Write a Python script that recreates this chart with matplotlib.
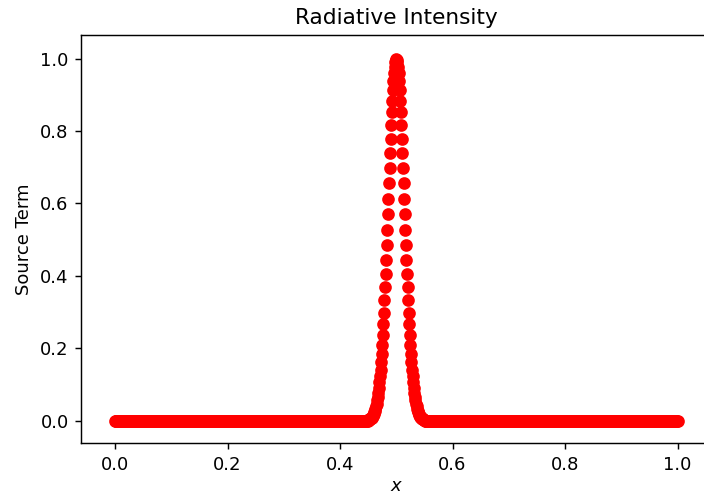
"""Radiative intensity source term sampled on a uniform grid over [0, 1]."""

import numpy as np
import matplotlib

matplotlib.use("Agg")
import matplotlib.pyplot as plt  # noqa: E402

# Sampling grid (uniform, step 0.001).
x_start, x_stop, n_points = 0.0, 1.0, 1001
x_peak = 0.5
grid_step = 0.001

# One side of the peak: value at x_peak + k * grid_step,
# k = 0, 1, 2, ...  Everything further out sits on the 0.0 baseline.
peak_profile = [
    1.0000, 0.9975, 0.9900, 0.9778, 0.9608, 0.9394, 0.9139, 0.8847, 0.8521,
    0.8167, 0.7788, 0.7390, 0.6977, 0.6554, 0.6126, 0.5698, 0.5273, 0.4855,
    0.4449, 0.4056, 0.3679, 0.3321, 0.2982, 0.2665, 0.2369, 0.2096, 0.1845,
    0.1616, 0.1409, 0.1222, 0.1054, 0.0905, 0.0773, 0.0657, 0.0556, 0.0468,
    0.0392, 0.0326, 0.0271, 0.0223, 0.0183, 0.0150, 0.0122, 0.0098, 0.0079,
    0.0063, 0.0050, 0.0040, 0.0032, 0.0025, 0.0019,
]

x = np.linspace(x_start, x_stop, n_points)
source = np.zeros(n_points)
centre = int(round((x_peak - x_start) / grid_step))
for k, value in enumerate(peak_profile):
    source[centre + k] = value
    source[centre - k] = value

# the reference is a 10pt default figure rendered at ~1.3x scale
scale = 1.3

fig = plt.figure(figsize=(7.04, 4.97), dpi=100)
ax = fig.add_axes([81.3 / 704, 53.7 / 497, 630 / 704, 408 / 497])
ax.scatter(x, source, s=36 * scale**2, c="red",
           linewidths=1.0 * scale, edgecolors="face")
ax.set_xlim(-0.06, 1.06)
ax.set_ylim(-0.063, 1.065)
ax.set_xticks([0.0, 0.2, 0.4, 0.6, 0.8, 1.0])
ax.set_yticks([0.0, 0.2, 0.4, 0.6, 0.8, 1.0])
ax.tick_params(labelsize=10 * scale, length=3.5 * scale, width=0.8 * scale,
               pad=3.5 * scale)
for spine in ax.spines.values():
    spine.set_linewidth(0.8 * scale)
ax.set_title("Radiative Intensity", fontsize=12 * scale, pad=6 * scale)
ax.set_xlabel("$x$", fontsize=10 * scale, labelpad=2)
ax.set_ylabel("Source Term", fontsize=10 * scale, labelpad=4 * scale)

fig.savefig("out.png", dpi=100)
plt.close(fig)
